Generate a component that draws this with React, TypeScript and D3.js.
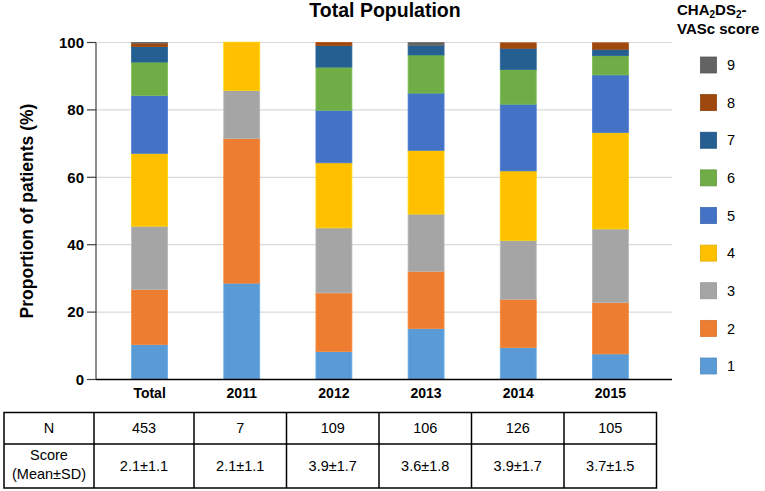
import * as d3 from 'd3'

const categories = ['Total', '2011', '2012', '2013', '2014', '2015']
const scores = ['1', '2', '3', '4', '5', '6', '7', '8', '9']
const scoreColors = ['#5b9bd5', '#ed7d31', '#a5a5a5', '#ffc000', '#4472c4', '#70ad47', '#255e91', '#9e480e', '#636363']

// percent of patients per score, one entry per category
const score1 = [10.4, 28.6, 8.3, 15.1, 9.5, 7.6]
const score2 = [16.3, 42.9, 17.4, 17.0, 14.3, 15.2]
const score3 = [18.8, 14.3, 19.3, 17.0, 17.5, 21.9]
const score4 = [21.6, 14.3, 19.3, 18.9, 20.6, 28.6]
const score5 = [17.2, 0, 15.6, 17.0, 19.8, 17.1]
const score6 = [9.9, 0, 12.8, 11.3, 10.3, 5.7]
const score7 = [4.6, 0, 6.4, 2.8, 6.3, 1.9]
const score8 = [1.0, 0, 0.9, 0, 1.6, 1.9]
const score9 = [0.2, 0, 0, 0.9, 0, 0]

const yTicks = [0, 20, 40, 60, 80, 100]

const nValues = ['453', '7', '109', '106', '126', '105']
const meanSd = ['2.1±1.1', '2.1±1.1', '3.9±1.7', '3.6±1.8', '3.9±1.7', '3.7±1.5']

const W = 765
const H = 491
const FONT = 'Arial, "Liberation Sans", sans-serif'

export default function App() {
  const series = [score1, score2, score3, score4, score5, score6, score7, score8, score9]
  const rows = categories.map((c, i) => {
    const r: Record<string, number | string> = { cat: c }
    scores.forEach((s, j) => { r[s] = series[j][i] })
    return r
  })
  const stacked = d3.stack<Record<string, number | string>>().keys(scores)(rows)

  const x = d3.scaleBand<string>().domain(categories).range([103.5, 656.5]).paddingInner(0.61).paddingOuter(0.305)
  const y = d3.scaleLinear().domain([0, 100]).range([379.5, 42.5])
  const plotLeft = 96
  const plotRight = 672

  const legendY = d3.scalePoint<string>().domain([...scores].reverse()).range([65, 366])

  // table columns: label column, Total, then the years
  const colEdges = [4, 94, 194, 286.5, 379, 471.5, 564, 656.5]
  const tTop = 412.5
  const tMid = 444
  const tBot = 488

  return (
    <svg width={W} height={H} style={{ position: 'absolute', left: 0, top: 0 }} fontFamily={FONT}>
      <rect width={W} height={H} fill="#fff" />
      <text x={385} y={17} textAnchor="middle" fontSize={19.5} fontWeight="bold">Total Population</text>

      {yTicks.map((t) => (
        <g key={t}>
          {t > 0 && <line x1={plotLeft} x2={plotRight} y1={y(t)} y2={y(t)} stroke="#d9d9d9" strokeWidth={1.2} />}
          <line x1={87} x2={plotLeft} y1={y(t)} y2={y(t)} stroke="#404040" strokeWidth={1.2} />
          <text x={84} y={y(t)} dy="0.35em" textAnchor="end" fontSize={15} fontWeight="bold">{t}</text>
        </g>
      ))}

      {stacked.map((layer, j) => (
        <g key={layer.key} fill={scoreColors[j]}>
          {layer.map((d, i) => (d[1] - d[0] > 0 ? (
            <rect key={i} x={x(categories[i])} width={x.bandwidth()} y={y(d[1])} height={y(d[0]) - y(d[1])}
              stroke={d3.color(scoreColors[j])!.brighter(0.3).toString()} strokeWidth={0.8} />
          ) : null))}
        </g>
      ))}

      <line x1={plotLeft} x2={plotLeft} y1={y(100)} y2={y(0)} stroke="#404040" strokeWidth={1.2} />
      <line x1={plotLeft} x2={plotRight} y1={y(0)} y2={y(0)} stroke="#000" strokeWidth={1.5} />

      {categories.map((c) => (
        <text key={c} x={x(c)! + x.bandwidth() / 2} y={398} textAnchor="middle" fontSize={14} fontWeight="bold">{c}</text>
      ))}

      <text transform={`translate(33,211) rotate(-90)`} textAnchor="middle" fontSize={17.5} fontWeight="bold">Proportion of patients (%)</text>

      <text x={677} y={15} fontSize={15} fontWeight="bold">
        CHA<tspan fontSize={10} dy={3}>2</tspan><tspan dy={-3}>DS</tspan><tspan fontSize={10} dy={3}>2</tspan><tspan dy={-3}>-</tspan>
      </text>
      <text x={677} y={34} fontSize={15} fontWeight="bold">VASc score</text>
      {scores.map((s, j) => (
        <g key={s} transform={`translate(0,${legendY(s)})`}>
          <rect x={700.5} y={-8} width={16} height={16} fill={scoreColors[j]}
            stroke={d3.color(scoreColors[j])!.darker(0.3).toString()} strokeWidth={0.8} />
          <text x={727} dy="0.36em" fontSize={14.5}>{s}</text>
        </g>
      ))}

      <g fontSize={14.5}>
        <rect x={colEdges[0]} y={tTop} width={colEdges[colEdges.length - 1] - colEdges[0]} height={tBot - tTop} fill="none" stroke="#000" strokeWidth={1.5} />
        <line x1={colEdges[0]} x2={colEdges[colEdges.length - 1]} y1={tMid} y2={tMid} stroke="#000" strokeWidth={1.5} />
        {colEdges.slice(1, -1).map((e) => (
          <line key={e} x1={e} x2={e} y1={tTop} y2={tBot} stroke="#000" strokeWidth={1.5} />
        ))}
        <text x={(colEdges[0] + colEdges[1]) / 2} y={(tTop + tMid) / 2} dy="0.35em" textAnchor="middle">N</text>
        <text x={(colEdges[0] + colEdges[1]) / 2} y={460} textAnchor="middle">Score</text>
        <text x={(colEdges[0] + colEdges[1]) / 2} y={479} textAnchor="middle">(Mean±SD)</text>
        {categories.map((c, i) => (
          <g key={c}>
            <text x={(colEdges[i + 1] + colEdges[i + 2]) / 2} y={(tTop + tMid) / 2} dy="0.35em" textAnchor="middle">{nValues[i]}</text>
            <text x={(colEdges[i + 1] + colEdges[i + 2]) / 2} y={(tMid + tBot) / 2} dy="0.35em" textAnchor="middle">{meanSd[i]}</text>
          </g>
        ))}
      </g>
    </svg>
  )
}
